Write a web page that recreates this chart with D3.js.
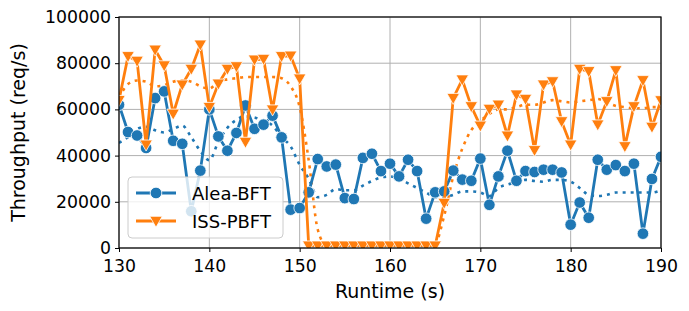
<!DOCTYPE html>
<html>
<head>
<meta charset="utf-8">
<script src="https://cdn.jsdelivr.net/npm/d3@7"></script>
<style>
  body { margin: 0; background: #fff; }
  text { font-family: "DejaVu Sans", sans-serif; }
</style>
</head>
<body>
<div id="chart"></div>
<script>
// seconds on the x axis, one sample per second
const seconds = d3.range(130, 191);

// Alea-BFT throughput (req/s)
const aleaValues = [
  62000, 50200, 48700, 43300, 64900, 67800, 46400, 45100, 15900, 33500,
  60000, 48300, 42100, 49800, 61700, 51600, 53400, 57300, 47900, 16600,
  17300, 24100, 38500, 35300, 36100, 21600, 21200, 39000, 40800, 33300,
  36500, 31000, 38200, 33300, 12700, 24100, 24500, 33500, 29600, 29100,
  38700, 18700, 31000, 42100, 29100, 33300, 32900, 33900, 33900, 32700,
  10100, 19700, 13100, 38200, 33900, 35900, 33300, 36500, 6200, 29900,
  39500
];

// ISS-PBFT throughput (req/s)
const issValues = [
  64000, 83000, 81000, 44700, 85800, 79000, 58100, 70700, 77500, 88000,
  61000, 71100, 77500, 78600, 45900, 81500, 81800, 59900, 83000, 83200,
  73300, 1000, 1000, 1000, 1000, 1000, 1000, 1000, 1000, 1000,
  1000, 1000, 1000, 1000, 1000, 1000, 19500, 64900, 72900, 61300,
  52900, 60200, 62000, 48600, 66400, 64500, 42300, 70700, 72100, 54800,
  44700, 77500, 76500, 53400, 63500, 76900, 44000, 61300, 72600, 52400,
  63900
];

// dotted (smoothed) lines as drawn in the picture
const aleaSmooth = [
  45500, 48000, 51500, 52500, 51000, 50000, 51500, 53000, 48000, 42000,
  38000, 46000, 52000, 55500, 57000, 56500, 55000, 53000, 48000, 44000,
  36000, 30000, 22000, 23000, 25500, 25000, 25000, 27000, 29000, 30500,
  31000, 30000, 28000, 26000, 24000, 22000, 22000, 23000, 24500, 24500,
  24000, 22500, 26000, 27500, 28500, 29500, 29000, 28700, 29500, 29500,
  28700, 26000, 23000, 22500, 23000, 24000, 24000, 24000, 24000, 24000,
  25000
];
const issSmooth = [
  65000, 71000, 72500, 72000, 70000, 70500, 72000, 72500, 72000, 70000,
  69000, 72000, 73000, 73500, 74000, 74000, 74000, 74000, 73500, 70000,
  61000, 38000, 8000, 1000, 1000, 1000, 1000, 1000, 1000, 1000,
  1000, 1000, 1000, 1000, 1000, 2000, 14000, 31000, 43000, 51000,
  55000, 58000, 60000, 60000, 61000, 62000, 62000, 63000, 64000, 63500,
  63000, 63500, 64000, 64500, 63000, 61500, 61000, 60500, 60500, 61000,
  61000
];

const xTicks = [130, 140, 150, 160, 170, 180, 190];
const yTicks = [0, 20000, 40000, 60000, 80000, 100000];

const seriesNames = ["Alea-BFT", "ISS-PBFT"];
const colors = ["#1f77b4", "#ff7f0e"];

const width = 689, height = 311;
const pL = 119, pR = 661, pT = 17, pB = 248;

const svg = d3.select("#chart").append("svg")
  .attr("width", width)
  .attr("height", height);

const x = d3.scaleLinear().domain([130, 190]).range([pL, pR]);
const y = d3.scaleLinear().domain([0, 100000]).range([pB, pT]);

// grid
svg.append("g").selectAll("line").data(xTicks).join("line")
  .attr("x1", d => x(d)).attr("x2", d => x(d))
  .attr("y1", pT).attr("y2", pB)
  .attr("stroke", "#b0b0b0").attr("stroke-width", 1);
svg.append("g").selectAll("line").data(yTicks).join("line")
  .attr("x1", pL).attr("x2", pR)
  .attr("y1", d => y(d)).attr("y2", d => y(d))
  .attr("stroke", "#b0b0b0").attr("stroke-width", 1);

// axes
const xAxis = svg.append("g")
  .attr("transform", `translate(0,${pB})`)
  .call(d3.axisBottom(x).tickValues(xTicks).tickSize(4).tickPadding(4).tickSizeOuter(0));
const yAxis = svg.append("g")
  .attr("transform", `translate(${pL},0)`)
  .call(d3.axisLeft(y).tickValues(yTicks).tickFormat(d3.format("d")).tickSize(4).tickPadding(4).tickSizeOuter(0));
[xAxis, yAxis].forEach(a => {
  a.select(".domain").remove();
  a.selectAll("text").attr("font-size", 17.3).attr("fill", "#000")
    .attr("font-family", "DejaVu Sans, sans-serif");
  a.selectAll("line").attr("stroke", "#000");
});
xAxis.selectAll("text").attr("dy", "0.95em");

svg.append("clipPath").attr("id", "plotclip")
  .append("rect").attr("x", pL).attr("y", pT - 6)
  .attr("width", pR - pL).attr("height", pB - pT + 6);

const plot = svg.append("g").attr("clip-path", "url(#plotclip)");

const mkLine = vals => d3.line()
  .x((d, i) => x(seconds[i]))
  .y(d => y(d))(vals);

// dotted smoothed lines
[aleaSmooth, issSmooth].forEach((vals, k) => {
  plot.append("path")
    .attr("d", d3.line().curve(d3.curveMonotoneX)
      .x((d, i) => x(seconds[i])).y(d => y(d))(vals))
    .attr("fill", "none")
    .attr("stroke", colors[k])
    .attr("stroke-width", 2.6)
    .attr("stroke-dasharray", "3,5");
});

const triDown = "M-6.3,-4.7L6.3,-4.7L0,6.3Z";

// main series
[aleaValues, issValues].forEach((vals, k) => {
  plot.append("path")
    .attr("d", mkLine(vals))
    .attr("fill", "none")
    .attr("stroke", colors[k])
    .attr("stroke-width", 2.8)
    .attr("stroke-linejoin", "round");
  const pts = plot.append("g").selectAll("g").data(vals).join("g")
    .attr("transform", (d, i) => `translate(${x(seconds[i])},${y(d)})`);
  if (k === 0) {
    pts.append("circle").attr("r", 5.8)
      .attr("fill", colors[k]).attr("stroke", "#fff").attr("stroke-width", 0.8);
  } else {
    pts.append("path").attr("d", triDown)
      .attr("fill", colors[k]).attr("stroke", "#fff").attr("stroke-width", 0.8);
  }
});

// frame
svg.append("rect")
  .attr("x", pL).attr("y", pT)
  .attr("width", pR - pL).attr("height", pB - pT)
  .attr("fill", "none").attr("stroke", "#000").attr("stroke-width", 1.2);

// axis labels
svg.append("text")
  .attr("x", (pL + pR) / 2).attr("y", 298)
  .attr("text-anchor", "middle").attr("font-size", 19)
  .text("Runtime (s)");
svg.append("text")
  .attr("transform", `translate(25,${(pT + pB) / 2}) rotate(-90)`)
  .attr("text-anchor", "middle").attr("font-size", 19)
  .text("Throughput (req/s)");

// legend
const lg = svg.append("g").attr("transform", "translate(128,177)");
lg.append("rect")
  .attr("width", 155).attr("height", 61).attr("rx", 4)
  .attr("fill", "#fff").attr("fill-opacity", 0.8)
  .attr("stroke", "#cccccc").attr("stroke-width", 1);
seriesNames.forEach((name, k) => {
  const yy = 16 + k * 28;
  lg.append("line")
    .attr("x1", 8).attr("x2", 48).attr("y1", yy).attr("y2", yy)
    .attr("stroke", colors[k]).attr("stroke-width", 2.8);
  if (k === 0) {
    lg.append("circle").attr("cx", 28).attr("cy", yy).attr("r", 5.8)
      .attr("fill", colors[k]).attr("stroke", "#fff").attr("stroke-width", 0.8);
  } else {
    lg.append("path").attr("d", triDown)
      .attr("transform", `translate(28,${yy})`)
      .attr("fill", colors[k]).attr("stroke", "#fff").attr("stroke-width", 0.8);
  }
  lg.append("text")
    .attr("x", 64).attr("y", yy + 6.5)
    .attr("font-size", 18)
    .text(name);
});
</script>
</body>
</html>
